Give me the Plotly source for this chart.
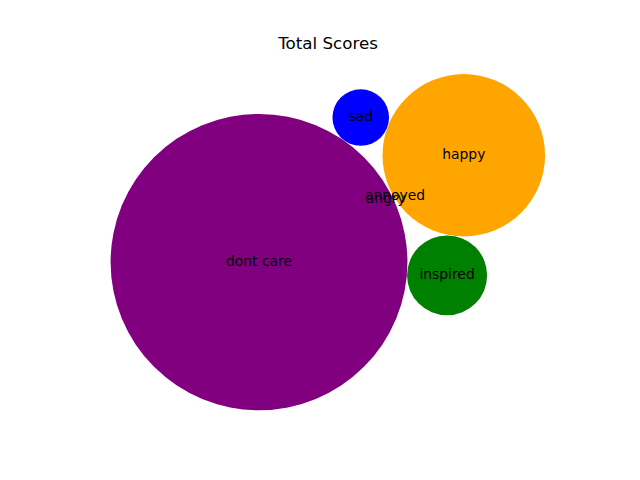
import numpy as np
import plotly.graph_objects as go

# Data
labels = ["dont care", "happy", "sad", "inspired", "annoyed", "angry"]
scores = [110, 33, 4, 8, 0, 0]
colors = ["#800080", "#FFA500", "#0000FF", "#008000", "#5A5A5A", "#888888"]
# packed bubble centers (layout result, data units)
cx = [0.0, 14.47, 7.19, 13.29, 9.61, 8.95]
cy = [0.0, 7.56, 10.23, -0.94, 4.66, 4.45]

radii = np.sqrt(np.array(scores, dtype=float))

fig = go.Figure()
for x, y, r, c in zip(cx, cy, radii, colors):
    if r <= 0:
        continue
    fig.add_shape(type="circle", xref="x", yref="y",
                  x0=x - r, x1=x + r, y0=y - r, y1=y + r,
                  fillcolor=c, line=dict(width=0), layer="below")

fig.add_trace(go.Scatter(
    x=cx, y=cy, mode="text", text=labels,
    textposition="middle center",
    textfont=dict(family="DejaVu Sans", size=13.9, color="black"),
    hoverinfo="skip", showlegend=False,
))

fig.update_layout(
    width=640, height=480,
    margin=dict(l=80, r=64, t=57.6, b=52.8),
    paper_bgcolor="white", plot_bgcolor="white",
    title=dict(text="Total Scores", x=(328 / 640), xanchor="center",
               y=(480 - 49) / 480, yanchor="bottom", yref="container",
               font=dict(family="DejaVu Sans", size=16.7, color="black")),
    xaxis=dict(range=[-12.65, 22.40], visible=False, fixedrange=True),
    yaxis=dict(range=[-11.675, 14.445], visible=False, fixedrange=True),
)

fig.write_html("out.html")
